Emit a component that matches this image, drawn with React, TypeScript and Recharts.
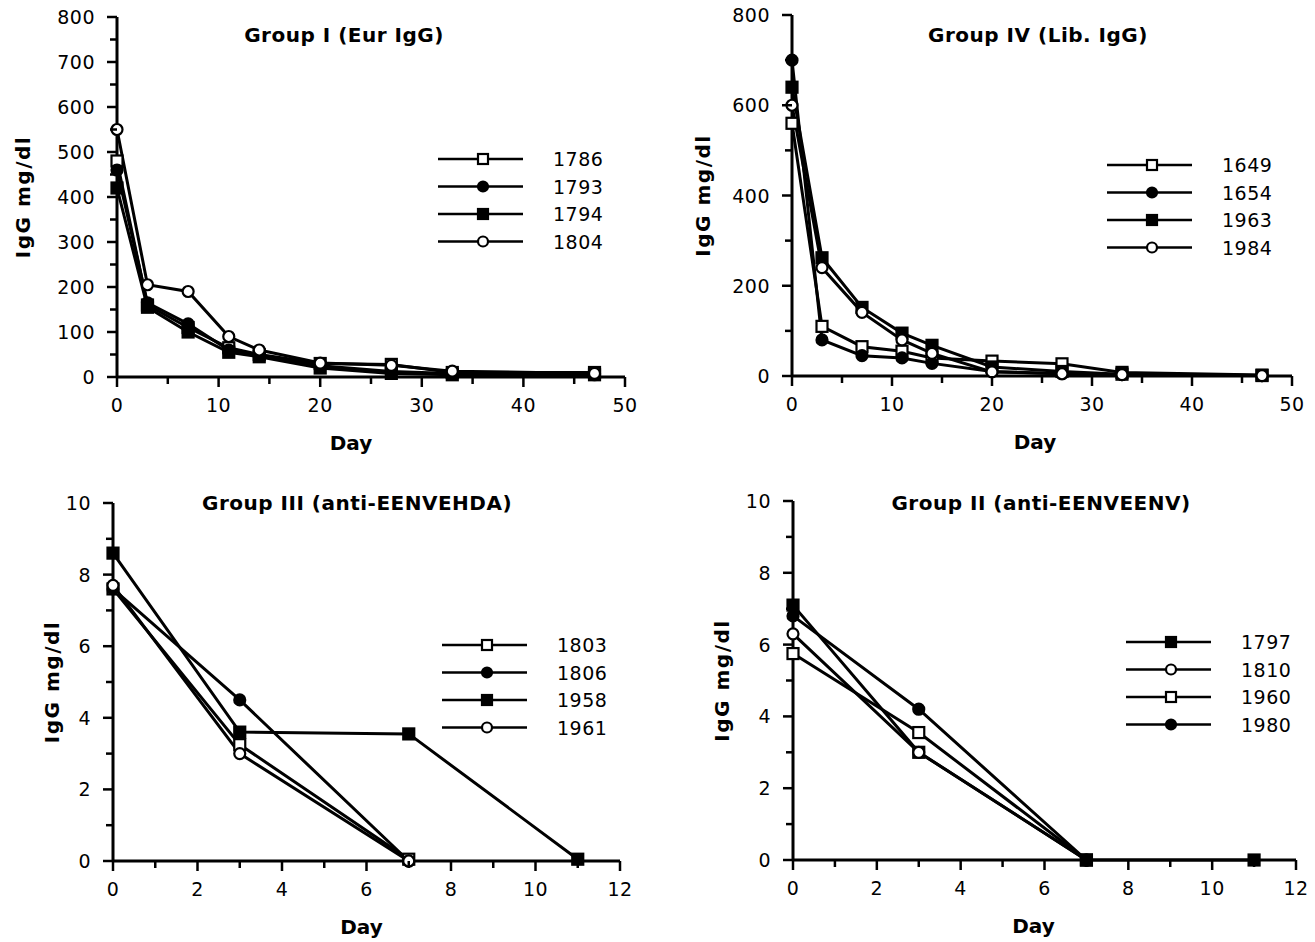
import React from 'react'
import { LineChart, Line, XAxis, YAxis, Legend } from 'recharts'

type Shape = 'openSquare' | 'filledCircle' | 'filledSquare' | 'openCircle'

// tick values
const daysTicksLong = [0, 5, 10, 15, 20, 25, 30, 35, 40, 45, 50]
const daysTicksShort = [0, 1, 2, 3, 4, 5, 6, 7, 8, 9, 10, 11, 12]
const iggTicksGroupI = [0, 50, 100, 150, 200, 250, 300, 350, 400, 450, 500, 550, 600, 650, 700, 750, 800]
const iggTicksGroupIV = [0, 100, 200, 300, 400, 500, 600, 700, 800]
const iggTicksSmall = [0, 1, 2, 3, 4, 5, 6, 7, 8, 9, 10]

// Group I (Eur IgG)
const daysGroupI = [0, 3, 7, 11, 14, 20, 27, 33, 47]
const g1_1786 = [480, 160, 110, 65, 50, 30, 28, 10, 10]
const g1_1793 = [460, 165, 118, 60, 47, 25, 12, 8, 5]
const g1_1794 = [420, 155, 100, 55, 45, 20, 8, 5, 5]
const g1_1804 = [550, 205, 190, 90, 60, 31, 26, 13, 8]

// Group IV (Lib. IgG)
const daysGroupIV = [0, 3, 7, 11, 14, 20, 27, 33, 47]
const g4_1649 = [560, 110, 65, 55, 40, 33, 27, 8, 2]
const g4_1654 = [700, 80, 45, 40, 28, 10, 5, 3, 1]
const g4_1963 = [640, 262, 152, 95, 68, 20, 10, 4, 1]
const g4_1984 = [600, 240, 141, 80, 50, 9, 5, 3, 1]

// Group III (anti-EENVEHDA)
const g3_1803_days = [0, 3, 7]
const g3_1803 = [7.6, 3.25, 0.05]
const g3_1806_days = [0, 3, 7]
const g3_1806 = [7.6, 4.5, 0]
const g3_1958_days = [0, 3, 7, 11]
const g3_1958 = [8.6, 3.6, 3.55, 0.05]
const g3_1961_days = [0, 3, 7]
const g3_1961 = [7.7, 3.0, 0]

// Group II (anti-EENVEENV)
const g2_1797_days = [0, 3, 7, 11]
const g2_1797 = [7.1, 3.0, 0, 0]
const g2_1810_days = [0, 3, 7]
const g2_1810 = [6.3, 3.0, 0]
const g2_1960_days = [0, 3, 7]
const g2_1960 = [5.75, 3.55, 0]
const g2_1980_days = [0, 3, 7]
const g2_1980 = [6.8, 4.2, 0]

interface Series {
  name: string
  shape: Shape
  days: number[]
  values: number[]
}

const groupI: Series[] = [
  { name: '1786', shape: 'openSquare', days: daysGroupI, values: g1_1786 },
  { name: '1793', shape: 'filledCircle', days: daysGroupI, values: g1_1793 },
  { name: '1794', shape: 'filledSquare', days: daysGroupI, values: g1_1794 },
  { name: '1804', shape: 'openCircle', days: daysGroupI, values: g1_1804 },
]
const groupIV: Series[] = [
  { name: '1649', shape: 'openSquare', days: daysGroupIV, values: g4_1649 },
  { name: '1654', shape: 'filledCircle', days: daysGroupIV, values: g4_1654 },
  { name: '1963', shape: 'filledSquare', days: daysGroupIV, values: g4_1963 },
  { name: '1984', shape: 'openCircle', days: daysGroupIV, values: g4_1984 },
]
const groupIII: Series[] = [
  { name: '1803', shape: 'openSquare', days: g3_1803_days, values: g3_1803 },
  { name: '1806', shape: 'filledCircle', days: g3_1806_days, values: g3_1806 },
  { name: '1958', shape: 'filledSquare', days: g3_1958_days, values: g3_1958 },
  { name: '1961', shape: 'openCircle', days: g3_1961_days, values: g3_1961 },
]
const groupII: Series[] = [
  { name: '1797', shape: 'filledSquare', days: g2_1797_days, values: g2_1797 },
  { name: '1810', shape: 'openCircle', days: g2_1810_days, values: g2_1810 },
  { name: '1960', shape: 'openSquare', days: g2_1960_days, values: g2_1960 },
  { name: '1980', shape: 'filledCircle', days: g2_1980_days, values: g2_1980 },
]

const FONT = '"DejaVu Sans", Verdana, sans-serif'

function Marker({ cx, cy, shape, r = 5.5 }: { cx: number; cy: number; shape: Shape; r?: number }) {
  const filled = shape === 'filledCircle' || shape === 'filledSquare'
  const fill = filled ? '#000' : '#fff'
  if (shape === 'openCircle' || shape === 'filledCircle') {
    return <circle cx={cx} cy={cy} r={r} fill={fill} stroke="#000" strokeWidth={2.2} />
  }
  return <rect x={cx - r} y={cy - r} width={r * 2} height={r * 2} fill={fill} stroke="#000" strokeWidth={2.2} />
}

const xTick = (every: number) => (props: any) => {
  const { x, y, payload } = props
  const major = payload.value % every === 0
  return (
    <g>
      <line x1={x} x2={x} y1={y} y2={y + (major ? 10 : 7)} stroke="#000" strokeWidth={2.5} />
      {major && (
        <text x={x} y={y + 35} textAnchor="middle" fontFamily={FONT} fontSize={19} letterSpacing={0.5} fill="#000">
          {payload.value}
        </text>
      )}
    </g>
  )
}

const yTick = (every: number) => (props: any) => {
  const { x, y, payload } = props
  const major = payload.value % every === 0
  return (
    <g>
      <line x1={x - (major ? 10 : 7)} x2={x} y1={y} y2={y} stroke="#000" strokeWidth={2.5} />
      {major && (
        <text x={x - 22} y={y + 7} textAnchor="end" fontFamily={FONT} fontSize={19} letterSpacing={0.5} fill="#000">
          {payload.value}
        </text>
      )}
    </g>
  )
}

function LegendBox({ series }: { series: Series[] }) {
  return (
    <svg width={180} height={115}>
      {series.map((s, i) => {
        const cy = 13 + i * 27.5
        return (
          <g key={s.name}>
            <line x1={0} x2={85} y1={cy} y2={cy} stroke="#000" strokeWidth={2.5} />
            <Marker cx={45} cy={cy} shape={s.shape} r={5} />
            <text x={115} y={cy + 7} fontFamily={FONT} fontSize={19} letterSpacing={0.5} fill="#000">
              {s.name}
            </text>
          </g>
        )
      })}
    </svg>
  )
}

interface PanelProps {
  title: string
  titleX: number
  titleY: number
  dayShift: number
  plot: { left: number; top: number; width: number; height: number }
  yAxisWidth: number
  xDomain: [number, number]
  xTicks: number[]
  xEvery: number
  yDomain: [number, number]
  yTicks: number[]
  yEvery: number
  legendAt: { x: number; y: number }
  series: Series[]
}

function Panel(p: PanelProps) {
  const marginTop = 10
  const chartLeft = p.plot.left - p.yAxisWidth
  const chartTop = p.plot.top - marginTop
  const width = p.yAxisWidth + p.plot.width + 40
  const height = marginTop + p.plot.height + 80
  return (
    <>
      <div
        style={{
          position: 'absolute',
          left: p.titleX,
          top: p.titleY,
          transform: 'translate(-50%, -50%)',
          fontFamily: FONT,
          fontWeight: 'bold',
          fontSize: 20,
          letterSpacing: 0.5,
          whiteSpace: 'nowrap',
          color: '#000',
        }}
      >
        {p.title}
      </div>
      <div style={{ position: 'absolute', left: chartLeft, top: chartTop }}>
        <LineChart width={width} height={height} margin={{ top: marginTop, right: 40, left: 0, bottom: 0 }}>
          <XAxis
            type="number"
            dataKey="day"
            domain={p.xDomain}
            ticks={p.xTicks}
            interval={0}
            height={80}
            tickSize={0}
            tickMargin={0}
            tickLine={false}
            axisLine={{ stroke: '#000', strokeWidth: 3 }}
            tick={xTick(p.xEvery)}
            label={{
              value: 'Day',
              position: 'insideBottom',
              offset: 7,
              dx: p.dayShift,
              fontFamily: FONT,
              fontWeight: 'bold',
              fontSize: 20,
              fill: '#000',
            }}
          />
          <YAxis
            type="number"
            domain={p.yDomain}
            ticks={p.yTicks}
            interval={0}
            width={p.yAxisWidth}
            tickSize={0}
            tickMargin={0}
            tickLine={false}
            axisLine={{ stroke: '#000', strokeWidth: 3 }}
            tick={yTick(p.yEvery)}
            label={{
              value: 'IgG mg/dl',
              angle: -90,
              position: 'center',
              fontFamily: FONT,
              fontWeight: 'bold',
              fontSize: 20,
              letterSpacing: 1.5,
              fill: '#000',
            }}
          />
          <Legend
            layout="vertical"
            align="center"
            verticalAlign="middle"
            content={() => <LegendBox series={p.series} />}
            wrapperStyle={{ left: p.legendAt.x - chartLeft, top: p.legendAt.y - 13 - chartTop, width: 180 }}
          />
          {p.series.map((s) => (
            <Line
              key={s.name}
              name={s.name}
              data={s.days.map((d, i) => ({ day: d, v: s.values[i] }))}
              dataKey="v"
              type="linear"
              stroke="#000"
              strokeWidth={3}
              dot={(d: any) => <Marker key={`${s.name}-${d.index}`} cx={d.cx} cy={d.cy} shape={s.shape} />}
              activeDot={false}
              isAnimationActive={false}
            />
          ))}
        </LineChart>
      </div>
    </>
  )
}

export default function App() {
  return (
    <div style={{ position: 'absolute', left: 0, top: 0, width: 1315, height: 942, background: '#fff', overflow: 'hidden' }}>
      <Panel
        title="Group I (Eur IgG)"
        titleX={344}
        titleY={35}
        dayShift={-20}
        plot={{ left: 117, top: 17, width: 508, height: 360 }}
        yAxisWidth={188}
        xDomain={[0, 50]}
        xTicks={daysTicksLong}
        xEvery={10}
        yDomain={[0, 800]}
        yTicks={iggTicksGroupI}
        yEvery={100}
        legendAt={{ x: 438, y: 159 }}
        series={groupI}
      />
      <Panel
        title="Group IV (Lib. IgG)"
        titleX={1038}
        titleY={35}
        dayShift={-7}
        plot={{ left: 792, top: 15, width: 500, height: 361 }}
        yAxisWidth={178}
        xDomain={[0, 50]}
        xTicks={daysTicksLong}
        xEvery={10}
        yDomain={[0, 800]}
        yTicks={iggTicksGroupIV}
        yEvery={200}
        legendAt={{ x: 1107, y: 165 }}
        series={groupIV}
      />
      <Panel
        title="Group III (anti-EENVEHDA)"
        titleX={357}
        titleY={503}
        dayShift={-5}
        plot={{ left: 113, top: 503, width: 507, height: 358 }}
        yAxisWidth={122}
        xDomain={[0, 12]}
        xTicks={daysTicksShort}
        xEvery={2}
        yDomain={[0, 10]}
        yTicks={iggTicksSmall}
        yEvery={2}
        legendAt={{ x: 442, y: 645 }}
        series={groupIII}
      />
      <Panel
        title="Group II (anti-EENVEENV)"
        titleX={1041}
        titleY={503}
        dayShift={-11}
        plot={{ left: 793, top: 501, width: 503, height: 359 }}
        yAxisWidth={142}
        xDomain={[0, 12]}
        xTicks={daysTicksShort}
        xEvery={2}
        yDomain={[0, 10]}
        yTicks={iggTicksSmall}
        yEvery={2}
        legendAt={{ x: 1126, y: 642 }}
        series={groupII}
      />
    </div>
  )
}
